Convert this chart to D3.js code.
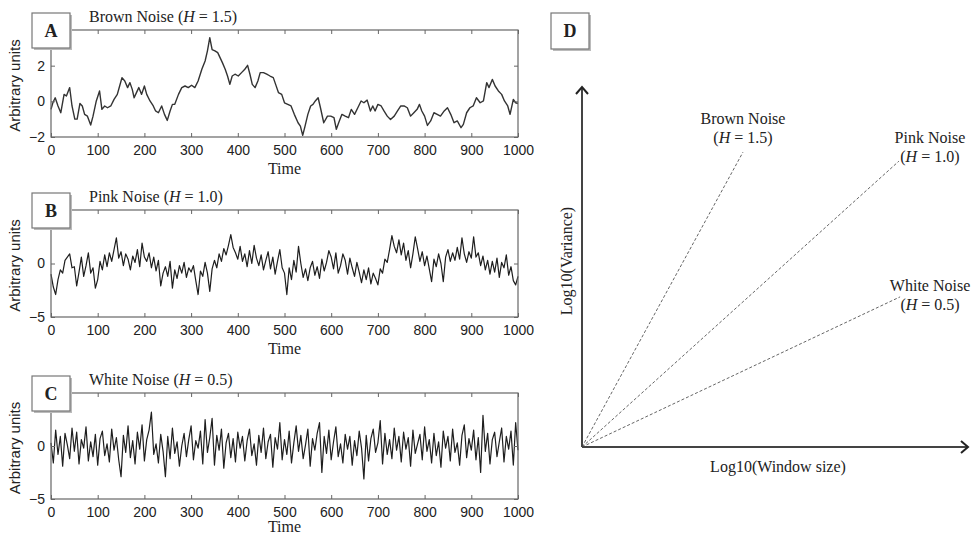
<!DOCTYPE html>
<html>
<head>
<meta charset="utf-8">
<script src="https://cdn.jsdelivr.net/npm/d3@7"></script>
<style>
  body { margin: 0; background: #fff; }
</style>
</head>
<body>
<svg width="972" height="536"></svg>
<script>
// ---- data ----
const timeTicks = [0, 100, 200, 300, 400, 500, 600, 700, 800, 900, 1000];

// brown noise, sampled where the trace turns
const brownTime = [0,4,9,15,21,28,33,40,45,51,56,62,67,72,78,85,90,97,104,109,115,121,128,135,142,147,152,158,164,169,174,178,183,188,194,200,205,212,219,224,230,237,243,249,255,260,265,273,280,287,294,301,308,315,323,330,335,340,345,351,357,362,367,373,378,383,388,394,401,408,415,421,426,431,437,443,448,455,462,469,476,481,487,494,
  500,507,514,521,529,534,539,544,550,556,561,566,572,577,584,592,599,606,611,616,623,630,637,643,650,657,664,670,677,684,689,694,700,707,713,720,727,735,742,749,756,763,770,777,784,789,794,800,806,813,820,827,834,842,849,856,863,870,878,883,890,897,904,911,919,926,933,938,945,951,958,965,971,978,983,990,995,1000];
const brownValue = [-0.45,-0.08,0.2,-0.26,-0.64,0.39,0.3,0.77,-0.26,-1.0,-1.0,-0.12,-0.26,-0.73,-0.83,-1.33,-0.83,0.02,0.58,-0.45,-0.26,-0.36,-0.26,0.11,0.39,0.86,1.33,1.14,0.77,1.05,0.67,0.2,0.49,0.77,0.39,0.86,0.39,0.02,-0.26,-0.54,-0.64,-0.26,-0.73,-1.07,-0.54,-0.17,-0.17,0.39,0.77,0.86,0.77,0.9,0.77,1.14,1.8,2.26,2.83,3.57,2.9,2.83,2.73,2.45,2.17,1.8,1.42,0.95,1.42,1.52,1.42,1.61,1.8,2.02,1.52,0.95,0.77,1.14,1.61,1.61,1.52,1.42,1.33,0.95,0.49,0.39,
  -0.08,-0.17,-0.26,-0.73,-1.2,-1.39,-1.91,-1.39,-0.73,-0.26,-0.17,0.02,0.2,-0.36,-1.2,-0.83,-0.83,-0.92,-1.57,-1.2,-0.73,-0.83,-0.92,-0.45,-0.73,-0.36,0.02,-0.08,0.07,-0.54,-0.26,-0.54,-0.17,-0.26,-0.54,-0.83,-1.02,-0.83,-0.54,-0.26,-0.26,-0.36,-0.83,-0.64,-0.45,-0.17,-0.54,-0.83,-1.35,-1.1,-0.64,-0.73,-0.83,-0.54,-0.36,-0.73,-1.2,-1.1,-1.48,-1.29,-0.64,-0.36,-0.26,0.2,-0.08,0.02,1.05,0.77,1.23,0.86,0.58,0.39,0.02,-0.26,-0.73,0.11,-0.08,-0.12];

// pink and white noise, one value every 5 time steps (t = 0 .. 1000)
const sampleStep = 5;
const pinkValue = [
  -1.0,-2.2,-2.9,-1.5,-0.6,-0.9,0.3,0.6,0.9,-0.4,
  -0.3,-2.1,-0.8,0.6,-1.2,-0.2,1.0,-0.9,-0.4,-2.3,
  -1.5,0.2,-0.6,0.8,-0.3,1.0,0.2,1.3,2.4,0.5,
  1.1,-0.2,0.9,0.4,-0.6,0.7,0.1,1.3,-0.3,1.9,
  0.6,0.2,1.0,-0.4,0.6,-0.7,0.3,-2.1,-0.9,-0.3,
  -1.2,0.2,-2.3,-0.6,-1.4,-0.2,-0.9,0.1,-1.3,-0.4,
  -0.8,-0.2,-1.6,-2.9,-0.7,-1.2,0.1,-0.9,-2.6,-0.5,
  0.3,-0.4,0.9,0.2,1.4,0.8,1.7,2.7,1.5,1.0,
  0.4,1.6,0.2,0.9,-0.3,1.2,0.0,1.7,0.5,-0.2,
  0.8,-0.6,0.3,1.1,-0.5,0.6,-1.0,0.2,1.3,-0.4,
  -0.9,-2.9,-0.4,-1.5,0.3,-0.8,1.6,0.0,-1.3,-0.5,
  -1.6,-0.4,0.2,-1.1,-0.3,-1.4,0.4,-0.7,0.1,1.2,
  0.6,-0.5,1.0,-0.9,-0.2,0.9,0.3,-1.0,0.5,-0.4,
  -1.2,0.1,-0.8,-1.8,-0.6,-1.5,-0.4,-1.9,-0.9,-1.4,
  -2.0,-0.5,-0.9,0.4,0.1,1.3,2.6,1.6,1.0,2.2,
  0.8,1.9,0.3,1.2,-0.4,0.9,2.5,1.4,0.2,1.1,
  -0.2,0.7,-0.5,-1.7,0.4,-0.3,0.9,0.0,-1.7,0.6,
  1.3,0.2,1.0,0.3,1.5,0.4,2.4,0.9,0.1,1.1,
  0.5,2.5,0.6,1.0,-0.2,0.7,-0.6,0.3,-1.0,0.2,
  -0.8,0.5,-1.3,0.1,-0.4,0.8,-1.1,-0.3,-1.6,-2.0,
  -1.2];
const whiteValue = [
  0.3,-1.6,1.5,-0.8,0.9,-1.9,1.2,0.1,-1.2,1.7,
  -0.5,1.3,-1.7,0.6,-0.2,1.8,-1.4,0.4,-1.0,1.1,
  -1.8,0.7,1.4,-0.9,0.2,-1.5,1.6,-0.4,0.8,-1.3,
  -2.9,1.0,-0.6,1.9,-1.1,0.5,-1.7,1.3,-0.3,2.0,
  -1.4,0.6,1.5,3.2,-0.8,0.2,-1.6,1.1,-0.5,-2.9,
  0.9,-1.2,1.7,-0.7,0.4,-1.9,0.0,1.2,-1.0,0.6,
  1.9,-1.3,0.5,-0.2,1.4,-1.7,2.5,-0.6,0.8,2.6,
  -1.8,1.0,-0.4,1.6,-2.1,0.3,1.2,-1.1,0.7,-1.5,
  1.3,-0.2,0.9,-1.4,0.5,1.6,-0.9,0.2,-1.8,1.0,
  -0.6,1.7,-1.2,0.4,1.1,-2.0,0.8,-0.3,2.2,-1.3,
  0.6,-0.8,1.4,-1.6,0.3,1.9,-0.5,1.0,-1.2,0.1,
  1.6,-1.9,0.7,-0.4,1.2,2.2,-2.5,0.9,-0.7,1.5,
  -1.3,0.4,1.8,-1.0,0.2,-1.6,1.1,-0.3,0.9,-1.8,
  0.5,-0.9,1.4,-0.2,-3.1,1.0,-1.4,0.7,1.6,-0.6,
  0.3,2.4,-1.7,1.2,-0.8,0.6,-1.2,1.7,-0.4,0.9,
  -1.5,1.3,-0.3,0.8,-1.9,1.5,-0.7,0.2,1.1,-1.3,
  1.8,-0.5,0.6,-1.6,1.2,-0.9,0.4,-2.0,1.4,-0.2,
  0.9,-1.4,1.6,-0.6,0.3,-1.8,1.0,2.0,-1.1,0.7,
  -0.4,1.5,-1.3,0.8,-2.5,2.9,-0.5,1.2,-1.7,0.6,
  1.3,-1.0,0.4,1.7,-1.5,0.9,-0.3,1.4,-1.8,2.2,
  -0.4];

const noiseNames = ["Brown Noise", "Pink Noise", "White Noise"];
const hurstValues = ["1.5", "1.0", "0.5"];
const panelLetters = ["A", "B", "C"];
const yDomains = [[-2, 4], [-5, 5], [-5, 5]];
const yTickValues = [[-2, 0, 2], [-5, 0], [-5, 0]];

// panel D: end points of the schematic scaling lines (axes run 0..1)
const dEndX = [0.417, 0.821, 0.824];
const dEndY = [0.819, 0.794, 0.417];

// ---- drawing ----
const svg = d3.select("svg");
svg.append("rect").attr("width", 972).attr("height", 536).attr("fill", "#fff");

const serif = "'Liberation Serif', 'Times New Roman', serif";
const sans = "'Liberation Sans', Arial, sans-serif";
const ink = "#222";

const plotLeft = 51, plotRight = 518;
const panelTops = [30, 210, 393];
const panelBottoms = [137, 317, 499];
const timeLabelGap = [37, 37, 33];

const x = d3.scaleLinear().domain([0, 1000]).range([plotLeft, plotRight]);
const fmt = d3.format("d");

const series = [
  brownTime.map((t, i) => [t, brownValue[i]]),
  pinkValue.map((v, i) => [i * sampleStep, v]),
  whiteValue.map((v, i) => [i * sampleStep, v])
];

function styleAxis(g) {
  g.selectAll("path.domain").remove();
  g.selectAll("line").attr("stroke", "#666");
  g.selectAll("text").attr("font-family", sans).attr("font-size", 14).attr("fill", ink);
}

function labelBox(x0, y0, w, h, letter) {
  const b = svg.append("g");
  b.append("rect").attr("x", x0 + 2).attr("y", y0 + 2).attr("width", w).attr("height", h)
    .attr("fill", "#bbb");
  b.append("rect").attr("x", x0).attr("y", y0).attr("width", w).attr("height", h)
    .attr("fill", "#fff").attr("stroke", "#777").attr("stroke-width", 1.2);
  b.append("text").attr("x", x0 + w / 2).attr("y", y0 + h / 2 + 6)
    .attr("text-anchor", "middle").attr("font-family", serif)
    .attr("font-weight", "bold").attr("font-size", 18).attr("fill", ink)
    .text(letter);
}

series.forEach((data, k) => {
  const top = panelTops[k], bottom = panelBottoms[k];
  const y = d3.scaleLinear().domain(yDomains[k]).range([bottom, top]);
  const g = svg.append("g");

  g.append("path")
    .datum(data)
    .attr("fill", "none")
    .attr("stroke", k === 0 ? "#333" : "#1e1e1e")
    .attr("stroke-width", k === 0 ? 1.4 : 1.2)
    .attr("stroke-linejoin", "round")
    .attr("d", d3.line().x(d => x(d[0])).y(d => y(d[1])));

  g.append("rect")
    .attr("x", plotLeft).attr("y", top)
    .attr("width", plotRight - plotLeft).attr("height", bottom - top)
    .attr("fill", "none").attr("stroke", "#666").attr("stroke-width", 1.2);

  g.append("g").attr("transform", `translate(0,${bottom})`)
    .call(d3.axisBottom(x).tickValues(timeTicks).tickFormat(fmt)
      .tickSizeInner(-4).tickSizeOuter(0).tickPadding(8))
    .call(styleAxis);
  g.append("g").attr("transform", `translate(0,${top})`)
    .call(d3.axisTop(x).tickValues(timeTicks).tickSizeInner(-4).tickSizeOuter(0).tickFormat(""))
    .call(styleAxis);
  g.append("g").attr("transform", `translate(${plotLeft},0)`)
    .call(d3.axisLeft(y).tickValues(yTickValues[k]).tickFormat(fmt)
      .tickSizeInner(-4).tickSizeOuter(0).tickPadding(6))
    .call(styleAxis);
  g.append("g").attr("transform", `translate(${plotRight},0)`)
    .call(d3.axisRight(y).tickValues(yTickValues[k]).tickSizeInner(-4).tickSizeOuter(0).tickFormat(""))
    .call(styleAxis);

  // x label
  g.append("text")
    .attr("x", (plotLeft + plotRight) / 2).attr("y", bottom + timeLabelGap[k])
    .attr("text-anchor", "middle").attr("font-family", serif).attr("font-size", 16)
    .attr("fill", ink).text("Time");

  // y label
  g.append("text")
    .attr("transform", `translate(20,${(top + bottom) / 2 + 2}) rotate(-90)`)
    .attr("text-anchor", "middle").attr("font-family", sans).attr("font-size", 15)
    .attr("fill", ink).text("Arbitrary units");

  // title
  const title = g.append("text")
    .attr("x", 89).attr("y", top - 8)
    .attr("font-family", serif).attr("font-size", 16).attr("fill", ink);
  title.append("tspan").text(noiseNames[k] + " (");
  title.append("tspan").attr("font-style", "italic").text("H");
  title.append("tspan").text(" = " + hurstValues[k] + ")");

  labelBox(32, top - 17, 38, 35, panelLetters[k]);
});

// ---- panel D ----
const xD = d3.scaleLinear().domain([0, 1]).range([582, 968]);
const yD = d3.scaleLinear().domain([0, 1]).range([447, 87]);
const dG = svg.append("g");

dEndX.forEach((ex, i) => {
  dG.append("line")
    .attr("x1", xD(0)).attr("y1", yD(0))
    .attr("x2", xD(ex)).attr("y2", yD(dEndY[i]))
    .attr("stroke", "#666").attr("stroke-width", 1)
    .attr("stroke-dasharray", "3,2");
});

dG.append("line").attr("x1", xD(0)).attr("y1", yD(0)).attr("x2", xD(1)).attr("y2", yD(0))
  .attr("stroke", "#444").attr("stroke-width", 2);
dG.append("line").attr("x1", xD(0)).attr("y1", yD(0)).attr("x2", xD(0)).attr("y2", yD(1))
  .attr("stroke", "#444").attr("stroke-width", 2);
dG.append("polyline")
  .attr("points", `${xD(0) - 6},${yD(1) + 7} ${xD(0)},${yD(1)} ${xD(0) + 6},${yD(1) + 7}`)
  .attr("fill", "none").attr("stroke", "#222").attr("stroke-width", 2);
dG.append("polyline")
  .attr("points", `${xD(1) - 7},${yD(0) - 6} ${xD(1)},${yD(0)} ${xD(1) - 7},${yD(0) + 6}`)
  .attr("fill", "none").attr("stroke", "#222").attr("stroke-width", 2);

// line labels: [dx, dy of first line] relative to line end
const dLabelOffsets = [[0, -28], [31, -18], [30, -6]];
dEndX.forEach((ex, i) => {
  const cx = xD(ex) + dLabelOffsets[i][0];
  const cy = yD(dEndY[i]) + dLabelOffsets[i][1];
  dG.append("text").attr("x", cx).attr("y", cy)
    .attr("text-anchor", "middle").attr("font-family", serif).attr("font-size", 16)
    .attr("fill", ink).text(noiseNames[i]);
  const t2 = dG.append("text").attr("x", cx).attr("y", cy + 19)
    .attr("text-anchor", "middle").attr("font-family", serif).attr("font-size", 16)
    .attr("fill", ink);
  t2.append("tspan").text("(");
  t2.append("tspan").attr("font-style", "italic").text("H");
  t2.append("tspan").text(" = " + hurstValues[i] + ")");
});

dG.append("text").attr("x", 778).attr("y", 472)
  .attr("text-anchor", "middle").attr("font-family", serif).attr("font-size", 16)
  .attr("fill", ink).text("Log10(Window size)");
dG.append("text")
  .attr("transform", "translate(572,261) rotate(-90)")
  .attr("text-anchor", "middle").attr("font-family", serif).attr("font-size", 16)
  .attr("fill", ink).text("Log10(Variance)");

labelBox(551, 13, 38, 36, "D");
</script>
</body>
</html>
